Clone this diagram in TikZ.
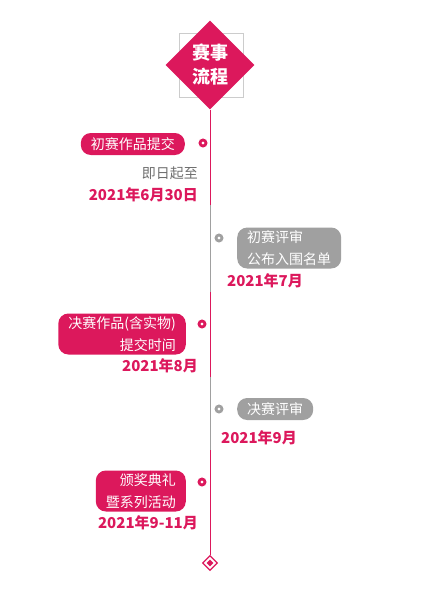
\documentclass[tikz,border=0pt]{standalone}
\usepackage{fontspec}
\setmainfont{Noto Sans CJK SC}
\usepackage{tikz}
\usetikzlibrary{positioning,shapes.geometric}
\definecolor{rose}{RGB}{220,24,92}
\definecolor{ash}{RGB}{160,160,160}
\definecolor{frame}{RGB}{204,204,204}
\definecolor{note}{RGB}{110,110,110}

\begin{document}
\begin{tikzpicture}[x=1pt, y=-1pt,
  tag/.style={fill=rose, text=white, rounded corners=10pt, align=right,
              font=\fontsize{14}{22}\selectfont, inner xsep=10pt, inner ysep=3pt,
              minimum height=22pt},
  gtag/.style={tag, fill=ash, align=left},
  dot/.style={circle, draw=rose, line width=2.8pt, fill=white,
              minimum size=6pt, inner sep=0pt},
  gdot/.style={dot, draw=ash},
  date/.style={text=rose, font=\fontsize{15}{18}\selectfont\bfseries, inner sep=0pt},
  seg/.style={draw=rose, line width=1pt},
  gseg/.style={seg, draw=ash}]
\useasboundingbox (0,0) rectangle (440,592);

% title
\node[draw=frame, line width=0.8pt, minimum size=64pt] (frame) at (211,65) {};
\node[diamond, fill=rose, minimum size=89pt, inner sep=0pt, text=white, align=center,
      font=\fontsize{18}{24}\selectfont\bfseries] (title) at (210,65) {赛事\\流程};
\node[diamond, draw=rose, fill=white, line width=1.2pt, minimum size=15pt, inner sep=0pt] (end) at (210,563) {};
\node[diamond, fill=rose, minimum size=7pt, inner sep=0pt] at (end) {};

% timeline
\coordinate (c1) at (210,205);
\coordinate (c2) at (210,292);
\coordinate (c3) at (210,377);
\coordinate (c4) at (210,450);
\draw[seg] (title.south) -- (c1);
\draw[gseg] (c1) -- (c2);
\draw[seg] (c2) -- (c3);
\draw[gseg] (c3) -- (c4);
\draw[seg] (c4) -- (end.north);

% stages
\node[dot] (d1) at (203,143) {};
\node[tag, anchor=east] (s1) at (185,144) {初赛作品提交};
\node[text=note, font=\fontsize{14}{16}\selectfont, inner sep=0pt, anchor=east] (from) at (198,173) {即日起至};
\node[date, anchor=east] (t1) at (198,195) {2021年6月30日};

\node[gdot] (d2) at (219,238) {};
\node[gtag, anchor=west] (s2) at (237,248) {初赛评审\\公布入围名单};
\node[date, anchor=west] (t2) at (227,281) {2021年7月};

\node[dot] (d3) at (202,324) {};
\node[tag, anchor=east] (s3) at (186,334) {决赛作品(含实物)\\提交时间};
\node[date, anchor=east] (t3) at (198,366) {2021年8月};

\node[gdot] (d4) at (219,409) {};
\node[gtag, anchor=west] (s4) at (237,409) {决赛评审};
\node[date, anchor=west] (t4) at (221,438) {2021年9月};

\node[dot] (d5) at (202,482) {};
\node[tag, anchor=east] (s5) at (186,491) {颁奖典礼\\暨系列活动};
\node[date, anchor=east] (t5) at (198,523) {2021年9-11月};
\end{tikzpicture}
\end{document}
